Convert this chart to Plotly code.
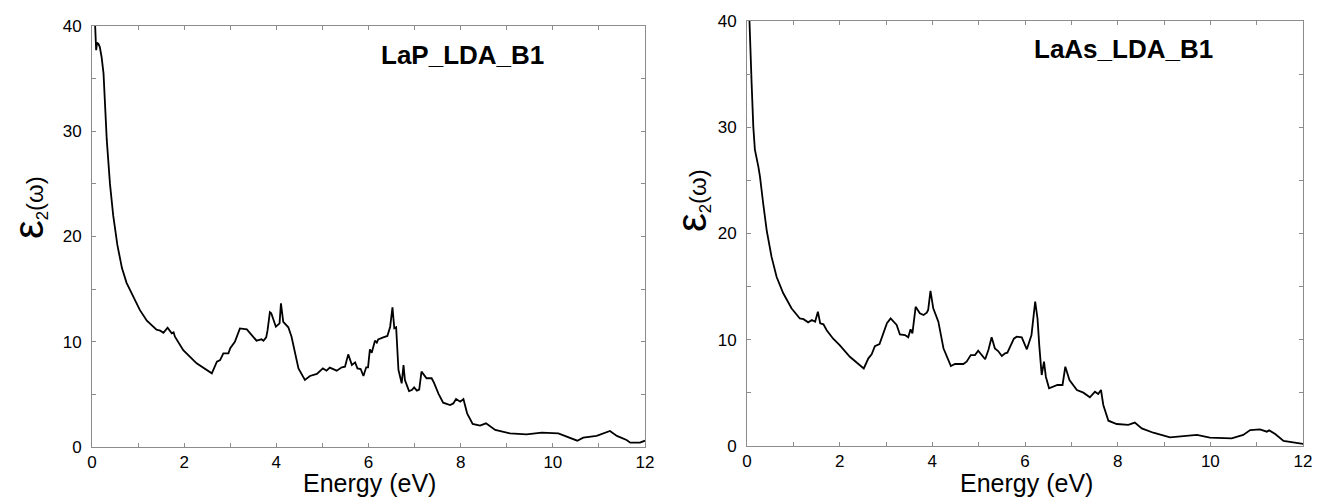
import plotly.graph_objects as go

# LaP (B1, LDA): imaginary part of the dielectric function
lap_energy = [0.05, 0.065, 0.09, 0.11, 0.14, 0.17, 0.21, 0.25, 0.28, 0.32, 0.39, 0.46,
              0.55, 0.65, 0.75, 0.90, 1.04, 1.19, 1.30, 1.40, 1.48, 1.55, 1.64, 1.69,
              1.73, 1.77, 1.80, 1.98, 2.27, 2.60, 2.71, 2.78, 2.85, 2.96, 3.00, 3.10,
              3.21, 3.36, 3.47, 3.57, 3.65, 3.68, 3.72, 3.78, 3.81, 3.86, 3.89, 3.99,
              4.07, 4.10, 4.15, 4.26, 4.33, 4.41, 4.48, 4.62, 4.73, 4.88, 5.01, 5.09,
              5.16, 5.31, 5.42, 5.49, 5.56, 5.64, 5.71, 5.76, 5.83, 5.89, 5.95, 5.99,
              6.03, 6.07, 6.14, 6.18, 6.21, 6.32, 6.41, 6.47, 6.52, 6.56, 6.60, 6.65,
              6.72, 6.76, 6.79, 6.88, 6.94, 6.99, 7.05, 7.10, 7.15, 7.26, 7.37, 7.42,
              7.52, 7.62, 7.77, 7.84, 7.90, 7.99, 8.06, 8.14, 8.26, 8.42, 8.55, 8.75,
              9.07, 9.43, 9.76, 10.12, 10.30, 10.53, 10.66, 10.95, 11.24, 11.39, 11.60,
              11.68, 11.89, 12.0]
lap_eps2 = [42.0, 40.2, 37.7, 38.4, 38.3, 38.0, 37.0, 35.5, 32.5, 29.2, 25.0, 22.0,
            19.2, 17.0, 15.6, 14.2, 13.0, 12.0, 11.6, 11.15, 11.05, 10.86, 11.34, 11.0,
            10.8, 10.9, 10.48, 9.2, 7.95, 7.0, 8.1, 8.25, 8.9, 8.9, 9.38, 10.0,
            11.27, 11.18, 10.64, 10.1, 10.2, 10.23, 10.1, 10.42, 11.1, 12.8, 12.7, 11.43,
            11.75, 13.65, 11.9, 11.37, 10.48, 8.9, 7.47, 6.37, 6.75, 6.94, 7.47, 7.25,
            7.54, 7.25, 7.57, 7.63, 8.8, 7.79, 8.04, 7.47, 7.41, 6.75, 7.57, 7.57,
            9.28, 8.96, 10.1, 9.91, 10.23, 10.42, 10.55, 11.43, 13.27, 11.27, 11.37, 7.32,
            6.05, 7.79, 6.37, 5.32, 5.41, 5.67, 5.35, 5.45, 7.16, 6.53, 6.53, 6.11,
            5.04, 4.21, 3.99, 4.14, 4.56, 4.31, 4.56, 3.2, 2.19, 2.03, 2.25, 1.62,
            1.30, 1.2, 1.36, 1.30, 0.98, 0.6, 0.89, 1.05, 1.52, 1.05, 0.67,
            0.41, 0.41, 0.6]

# LaAs (B1, LDA)
laas_energy = [0.03, 0.05, 0.10, 0.136, 0.17, 0.245, 0.28, 0.35, 0.425, 0.53, 0.64, 0.78,
               0.96, 1.14, 1.22, 1.32, 1.40, 1.47, 1.53, 1.58, 1.65, 1.72, 1.86, 2.00,
               2.22, 2.52, 2.62, 2.69, 2.76, 2.86, 2.94, 3.02, 3.10, 3.23, 3.30, 3.41,
               3.48, 3.53, 3.57, 3.64, 3.73, 3.81, 3.88, 3.91, 3.96, 4.02, 4.13, 4.24,
               4.40, 4.49, 4.67, 4.74, 4.83, 4.92, 4.99, 5.14, 5.21, 5.28, 5.35, 5.42,
               5.50, 5.57, 5.62, 5.68, 5.76, 5.82, 5.93, 6.04, 6.14, 6.22, 6.27, 6.31,
               6.36, 6.41, 6.45, 6.52, 6.61, 6.70, 6.81, 6.87, 6.96, 7.04, 7.12, 7.26,
               7.40, 7.51, 7.58, 7.64, 7.69, 7.80, 7.98, 8.23, 8.37, 8.52, 8.77, 9.13,
               9.45, 9.71, 9.99, 10.46, 10.71, 10.86, 11.07, 11.22, 11.27, 11.40, 11.58,
               11.86, 12.0]
laas_eps2 = [43.0, 40.0, 34.1, 30.05, 27.9, 26.3, 25.35, 22.8, 20.3, 17.8, 15.9, 14.4,
             12.96, 12.0, 11.94, 11.64, 11.86, 11.7, 12.64, 11.55, 11.45, 10.9, 10.1, 9.5,
             8.4, 7.3, 8.25, 8.63, 9.4, 9.6, 10.6, 11.55, 12.0, 11.39, 10.5, 10.44,
             10.23, 10.98, 10.6, 13.1, 12.49, 12.33, 12.55, 12.8, 14.6, 12.96, 11.7, 9.2,
             7.53, 7.72, 7.72, 7.94, 8.56, 8.56, 8.97, 8.16, 9.04, 10.23, 9.19, 8.94,
             8.47, 8.72, 8.78, 9.35, 10.1, 10.29, 10.23, 9.1, 10.45, 13.6, 12.0, 9.35,
             6.68, 7.94, 6.52, 5.43, 5.58, 5.74, 5.74, 7.46, 6.21, 5.74, 5.27, 5.02,
             4.58, 5.11, 4.89, 5.27, 3.86, 2.38, 2.07, 1.98, 2.2, 1.66, 1.25, 0.82,
             0.97, 1.04, 0.78, 0.72, 1.04, 1.5, 1.57, 1.35, 1.47, 1.13, 0.47,
             0.31, 0.19]

x_ticks = [0, 2, 4, 6, 8, 10, 12]
y_ticks = [0, 10, 20, 30, 40]
panel_labels = ["LaP_LDA_B1", "LaAs_LDA_B1"]
x_title = "Energy (eV)"
y_title = '<span style="font-size:42px">ε</span><sub>2</sub>(ω)'

W, H = 1331, 501
FONT = "Liberation Sans, Arial, Helvetica, sans-serif"
AXIS_GREY = "#8c8c8c"

fig = go.Figure()
fig.add_trace(go.Scatter(x=lap_energy, y=lap_eps2, mode="lines",
                         line=dict(color="black", width=1.8), xaxis="x", yaxis="y",
                         showlegend=False, hoverinfo="skip"))
fig.add_trace(go.Scatter(x=laas_energy, y=laas_eps2, mode="lines",
                         line=dict(color="black", width=1.8), xaxis="x2", yaxis="y2",
                         showlegend=False, hoverinfo="skip"))


def px_x(p):
    return p / W


def px_y(p):
    return 1 - p / H


common_x = dict(range=[0, 12], tickvals=x_ticks, ticks="inside", ticklen=4,
                tickcolor=AXIS_GREY, showline=True, linecolor=AXIS_GREY, linewidth=1,
                mirror="ticks", showgrid=False, zeroline=False, automargin=False,
                tickfont=dict(family=FONT, size=17, color="black"),
                minor=dict(ticks="inside", dtick=1, ticklen=4, tickcolor=AXIS_GREY,
                           showgrid=False))
common_y = dict(range=[0, 40], tickvals=y_ticks, ticks="inside", ticklen=4,
                tickcolor=AXIS_GREY, showline=True, linecolor=AXIS_GREY, linewidth=1,
                mirror="ticks", showgrid=False, zeroline=False, automargin=False,
                ticklabelstandoff=6,
                tickfont=dict(family=FONT, size=17, color="black"),
                minor=dict(ticks="inside", dtick=5, ticklen=4, tickcolor=AXIS_GREY,
                           showgrid=False))

fig.update_layout(
    width=W, height=H,
    margin=dict(l=0, r=0, t=0, b=0, autoexpand=False),
    paper_bgcolor="white", plot_bgcolor="white",
    xaxis=dict(domain=[px_x(92), px_x(645)], anchor="y", **common_x),
    yaxis=dict(domain=[px_y(447), px_y(26)], anchor="x", **common_y),
    xaxis2=dict(domain=[px_x(747), px_x(1303)], anchor="y2", **common_x),
    yaxis2=dict(domain=[px_y(446), px_y(21)], anchor="x2", **common_y),
)


def label(text, cx, cy, size, angle=0):
    return dict(text=text, x=px_x(cx), y=px_y(cy), xref="paper", yref="paper",
                showarrow=False, textangle=angle, xanchor="center", yanchor="middle",
                font=dict(family=FONT, size=size, color="black"))


fig.update_layout(annotations=[
    label(f"<b>{panel_labels[0]}</b>", 462, 55, 26),
    label(f"<b>{panel_labels[1]}</b>", 1123, 49, 26),
    label(x_title, 369, 483, 25),
    label(x_title, 1026, 483, 25),
    label(y_title, 28, 208, 24, -90),
    label(y_title, 691, 200, 24, -90),
])

fig.write_html("out.html")
